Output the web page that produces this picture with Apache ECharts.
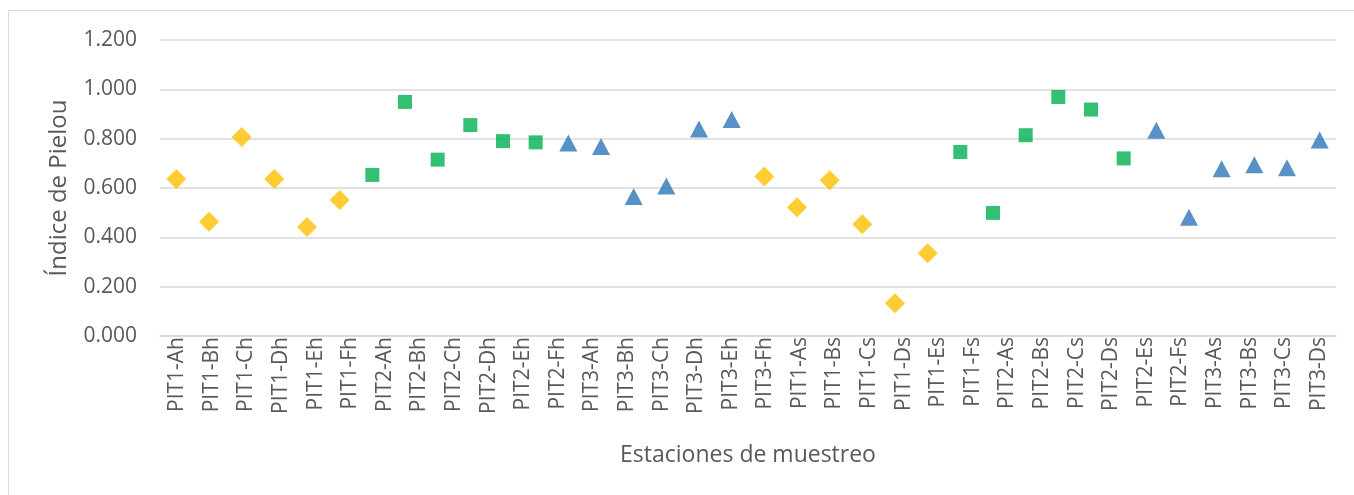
<!DOCTYPE html>
<html>
<head>
<meta charset="utf-8">
<title>Índice de Pielou por estación</title>
<script src="https://cdn.jsdelivr.net/npm/echarts@6/dist/echarts.min.js"></script>
<style>
  html, body { margin: 0; padding: 0; background: #ffffff; }
  #chart { width: 1354px; height: 495px; }
</style>
</head>
<body>
<div id="chart"></div>
<script>
// Station labels printed under the plot
const tickLabels = [
  'PIT1-Ah', 'PIT1-Bh', 'PIT1-Ch', 'PIT1-Dh', 'PIT1-Eh', 'PIT1-Fh',
  'PIT2-Ah', 'PIT2-Bh', 'PIT2-Ch', 'PIT2-Dh', 'PIT2-Eh', 'PIT2-Fh',
  'PIT3-Ah', 'PIT3-Bh', 'PIT3-Ch', 'PIT3-Dh', 'PIT3-Eh', 'PIT3-Fh',
  'PIT1-As', 'PIT1-Bs', 'PIT1-Cs', 'PIT1-Ds', 'PIT1-Es', 'PIT1-Fs',
  'PIT2-As', 'PIT2-Bs', 'PIT2-Cs', 'PIT2-Ds', 'PIT2-Es', 'PIT2-Fs',
  'PIT3-As', 'PIT3-Bs', 'PIT3-Cs', 'PIT3-Ds'
];

// Sampled stations, in plotting order (one slot per point)
const stations = [
  'PIT1-Ah', 'PIT1-Bh', 'PIT1-Ch', 'PIT1-Dh', 'PIT1-Eh', 'PIT1-Fh',
  'PIT2-Ah', 'PIT2-Bh', 'PIT2-Ch', 'PIT2-Dh', 'PIT2-Eh', 'PIT2-Fh',
  'PIT3-Ah', 'PIT3-Bh', 'PIT3-Ch', 'PIT3-Dh', 'PIT3-Eh', 'PIT3-Fh',
  'PIT1-As', 'PIT1-Bs', 'PIT1-Cs', 'PIT1-Ds', 'PIT1-Es', 'PIT1-Fs',
  'PIT2-As', 'PIT2-Bs', 'PIT2-Cs', 'PIT2-Ds', 'PIT2-Es', 'PIT2-Fs',
  'PIT3-As', 'PIT3-Bs', 'PIT3-Cs', 'PIT3-Ds', 'PIT3-Es', 'PIT3-Fs'
];

// Pielou evenness per pit (null where the station belongs to another pit)
const pit1 = [
  0.636, 0.463, 0.807, 0.636, 0.442, 0.551,
  null, null, null, null, null, null,
  null, null, null, null, null, null,
  0.647, 0.522, 0.631, 0.453, 0.133, 0.335,
  null, null, null, null, null, null,
  null, null, null, null, null, null
];
const pit2 = [
  null, null, null, null, null, null,
  0.653, 0.949, 0.715, 0.855, 0.790, 0.785,
  null, null, null, null, null, null,
  null, null, null, null, null, null,
  0.746, 0.499, 0.814, 0.969, 0.918, 0.720,
  null, null, null, null, null, null
];
const pit3 = [
  null, null, null, null, null, null,
  null, null, null, null, null, null,
  0.782, 0.768, 0.566, 0.608, 0.839, 0.878,
  null, null, null, null, null, null,
  null, null, null, null, null, null,
  0.834, 0.481, 0.678, 0.694, 0.682, 0.795
];

const yTicks = { min: 0, max: 1.2, interval: 0.2 };

const textColor = '#595959';
const gridColor = '#d9d9d9';
const font = '"Open Sans", "Noto Sans", sans-serif';

const chart = echarts.init(document.getElementById('chart'), null, { renderer: 'canvas' });

chart.setOption({
  animation: false,
  backgroundColor: '#ffffff',
  textStyle: { fontFamily: font },
  graphic: [{
    type: 'rect',
    shape: { x: 8.5, y: 10.5, width: 1400, height: 520 },
    style: { fill: 'none', stroke: '#d9d9d9', lineWidth: 1 },
    silent: true
  }],
  grid: { left: 160, right: 18, top: 40, bottom: 159 },
  xAxis: [
    {
      type: 'category',
      data: tickLabels,
      boundaryGap: true,
      name: 'Estaciones de muestreo',
      nameLocation: 'middle',
      nameGap: 108,
      nameTextStyle: { fontFamily: font, fontSize: 23, color: textColor },
      axisLine: { show: true, lineStyle: { color: gridColor, width: 1.5 } },
      axisTick: { show: false },
      axisLabel: {
        rotate: 90, interval: 0, margin: 1,
        fontFamily: font, fontSize: 21, color: textColor
      },
      splitLine: { show: false }
    },
    {
      type: 'category',
      data: stations,
      boundaryGap: true,
      show: false,
      position: 'bottom'
    }
  ],
  yAxis: {
    type: 'value',
    min: yTicks.min,
    max: yTicks.max,
    interval: yTicks.interval,
    name: 'Índice de Pielou',
    nameLocation: 'middle',
    nameGap: 89,
    nameTextStyle: { fontFamily: font, fontSize: 24, color: textColor },
    axisLine: { show: false },
    axisTick: { show: false },
    axisLabel: {
      margin: 23, fontFamily: font, fontSize: 21, color: textColor,
      formatter: v => v.toFixed(3)
    },
    splitLine: { show: true, lineStyle: { color: gridColor, width: 1.5 } }
  },
  series: [
    {
      name: 'PIT1', type: 'scatter', xAxisIndex: 1,
      symbol: 'diamond', symbolSize: [20, 20],
      itemStyle: { color: '#FFC000' },
      data: pit1
    },
    {
      name: 'PIT2', type: 'scatter', xAxisIndex: 1,
      symbol: 'rect', symbolSize: [14, 14],
      itemStyle: { color: '#00B050' },
      data: pit2
    },
    {
      name: 'PIT3', type: 'scatter', xAxisIndex: 1,
      symbol: 'triangle', symbolSize: [18, 17],
      itemStyle: { color: '#2E75B6' },
      data: pit3
    }
  ]
});
</script>
</body>
</html>
